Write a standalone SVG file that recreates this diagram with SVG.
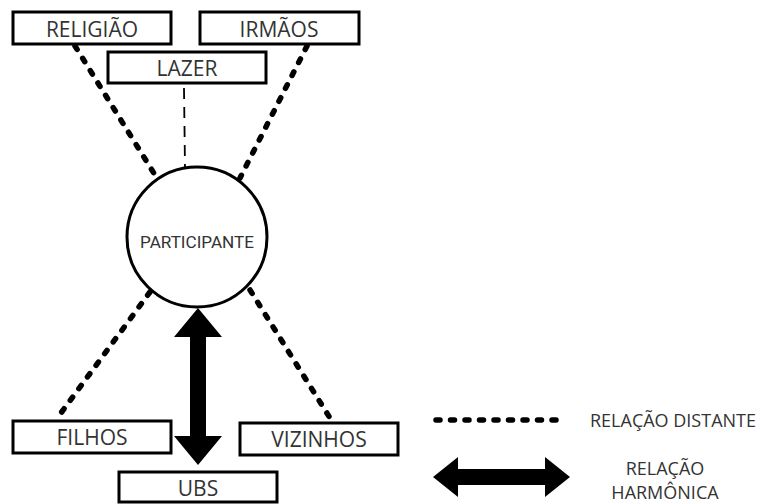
<svg xmlns="http://www.w3.org/2000/svg" width="761" height="504" viewBox="0 0 761 504">
<style>
.box{fill:#fff;stroke:#000;stroke-width:3}
.lbl{font-family:"Open Sans","Liberation Sans",sans-serif;font-size:21px;fill:#333;text-anchor:middle}
.leg{font-family:"Open Sans","Liberation Sans",sans-serif;font-size:18px;fill:#333}
.dot{stroke:#000;stroke-width:5.5;stroke-dasharray:4 10.5;stroke-linecap:round;fill:none}
.thin{stroke:#000;stroke-width:1.8;stroke-dasharray:11 8;fill:none}
</style>
<rect width="761" height="504" fill="#fff"/>
<g id="connectors">
<line class="dot" x1="75" y1="46" x2="155" y2="175"/>
<line class="dot" x1="307" y1="46" x2="240" y2="178"/>
<line class="thin" x1="184" y1="88" x2="185" y2="168"/>
<line class="dot" x1="150" y1="292" x2="58" y2="417"/>
<line class="dot" x1="250" y1="290" x2="330" y2="418"/>
<polygon fill="#000" points="198,308 222,337 206,337 206,436 222,436 198,465 174,436 190,436 190,337 174,337"/>
</g>
<g id="participante">
<circle cx="197" cy="237" r="70" fill="#fff" stroke="#000" stroke-width="3"/>
<text x="197" y="248" font-family="Roboto,'Liberation Sans',sans-serif" font-size="16" fill="#333" text-anchor="middle" textLength="114" lengthAdjust="spacingAndGlyphs">PARTICIPANTE</text>
</g>
<g id="religiao"><rect class="box" x="13" y="12" width="158" height="32"/><text class="lbl" x="92" y="37">RELIGIÃO</text></g>
<g id="irmaos"><rect class="box" x="200" y="12" width="159" height="32"/><text class="lbl" x="279" y="37">IRMÃOS</text></g>
<g id="lazer"><rect class="box" x="108" y="52" width="158" height="31"/><text class="lbl" x="187" y="76">LAZER</text></g>
<g id="filhos"><rect class="box" x="13" y="421" width="158" height="32"/><text class="lbl" x="92" y="445">FILHOS</text></g>
<g id="vizinhos"><rect class="box" x="240" y="423" width="158" height="32"/><text class="lbl" x="319" y="447">VIZINHOS</text></g>
<g id="ubs"><rect class="box" x="119" y="472" width="158" height="30"/><text class="lbl" x="198" y="496">UBS</text></g>
<g id="legend">
<line class="dot" x1="436" y1="420" x2="566" y2="420"/>
<text class="leg" x="590" y="427">RELAÇÃO DISTANTE</text>
<polygon fill="#000" points="433,477 458,457 458,469 545,469 545,457 570,477 545,497 545,485 458,485 458,497"/>
<text class="leg" x="665" y="475" text-anchor="middle">RELAÇÃO</text>
<text class="leg" x="665" y="499" text-anchor="middle">HARMÔNICA</text>
</g>
</svg>
